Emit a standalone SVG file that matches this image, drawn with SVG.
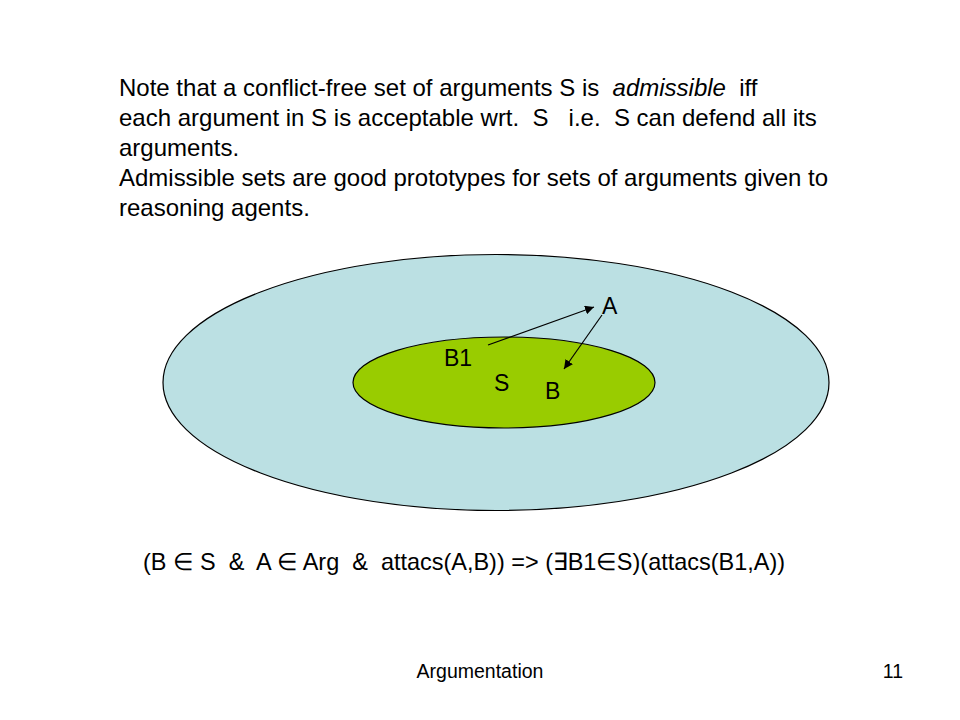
<svg xmlns="http://www.w3.org/2000/svg" width="960" height="720" viewBox="0 0 960 720">
<style>
text{font-family:"Liberation Sans",Arial,sans-serif;fill:#000;white-space:pre}
.body{font-size:24px}
.lbl{font-size:23px}
.foot{font-size:19.5px}
.conn{stroke:#000;stroke-width:1.2;fill:none;marker-end:url(#ah)}
</style>
<defs>
<marker id="ah" viewBox="0 0 10 10" refX="10" refY="5" markerWidth="9" markerHeight="9" markerUnits="userSpaceOnUse" orient="auto">
<path d="M0,0 L10,5 L0,10 z" fill="#000"/>
</marker>
</defs>
<rect width="960" height="720" fill="#fff"/>
<g id="text-block" class="body">
<text x="119" y="96" xml:space="preserve">Note that a conflict-free set of arguments S is  <tspan font-style="italic">admissible</tspan>  iff</text>
<text x="119" y="126" xml:space="preserve">each argument in S is acceptable wrt.  S   i.e.  S can defend all its</text>
<text x="119" y="156">arguments.</text>
<text x="119" y="186" textLength="709" lengthAdjust="spacingAndGlyphs">Admissible sets are good prototypes for sets of arguments given to</text>
<text x="119" y="216">reasoning agents.</text>
</g>
<g id="node-Arg">
<ellipse cx="496" cy="382.5" rx="333" ry="128" fill="#BBE0E3" stroke="#000" stroke-width="1.2"/>
</g>
<g id="node-S">
<ellipse cx="504" cy="382.5" rx="151" ry="45.5" fill="#99CC00" stroke="#000" stroke-width="1.2"/>
<text class="lbl" x="494" y="391">S</text>
</g>
<g id="node-A"><text class="lbl" x="602" y="314">A</text></g>
<g id="node-B1"><text class="lbl" x="444" y="366">B1</text></g>
<g id="node-B"><text class="lbl" x="545" y="399">B</text></g>
<g id="connectors">
<line class="conn" x1="488" y1="345" x2="594" y2="307"/>
<line class="conn" x1="602" y1="315" x2="564" y2="369"/>
</g>
<g id="formula" class="body">
<text x="143" y="570" xml:space="preserve" textLength="642" lengthAdjust="spacingAndGlyphs">(B ∈ S  &amp;  A ∈ Arg  &amp;  attacs(A,B)) =&gt; (∃B1∈S)(attacs(B1,A))</text>
</g>
<g id="footer" class="foot">
<text x="480" y="678" text-anchor="middle">Argumentation</text>
<text x="903" y="678" text-anchor="end">11</text>
</g>
</svg>
